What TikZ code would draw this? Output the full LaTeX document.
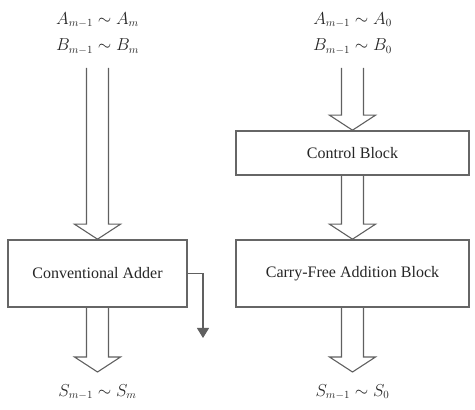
\documentclass[tikz,border=0pt]{standalone}
\usepackage{fontspec}
\setmainfont{Liberation Serif}
\usetikzlibrary{positioning,calc,arrows.meta}
\tikzset{
  block/.style={draw=gray!80!black, line width=1.6pt, fill=white,
    font=\fontsize{16}{19}\selectfont, text=black!85},
  bus/.style={draw=gray!75!black, line width=1.1pt, line join=miter},
  tag/.style={font=\fontsize{16}{19}\selectfont, text=black!85, inner sep=1pt},
}
% hollow two-line arrow from #1 to tip #2
\newcommand{\busarrow}[2]{%
\draw [bus] ($(#1)+(-11,0)$) -- ($(#2)+(-11,15)$) -- ($(#2)+(-23,15)$) --
  (#2) -- ($(#2)+(23,15)$) -- ($(#2)+(11,15)$) -- ($(#1)+(11,0)$);}
\begin{document}
\begin{tikzpicture}[x=1pt, y=1pt]
\useasboundingbox (0,0) rectangle (475,410);
% left: conventional part
\node [tag] (inAl) at (97.5,390) {$A_{m-1} \sim A_m$};
\node [tag, below=9pt of inAl] (inBl) {$B_{m-1} \sim B_m$};
\node [block, minimum width=179pt, minimum height=67pt] (adder)
  at (97.5,136.5) {Conventional Adder};
\coordinate (topL) at (97.5,342);
\coordinate (tipL) at (97.5,38);
\node [tag] (sumL) at (97.5,18) {$S_{m-1} \sim S_m$};
\busarrow{topL}{adder.north}
\busarrow{adder.south}{tipL}
\coordinate (carry) at (203,72);
\draw [bus, -{Triangle[width=12pt,length=10pt]}]
  (adder.east) -| (carry);
% right: carry-free part
\node [tag] (inAr) at (352.5,390) {$A_{m-1} \sim A_0$};
\node [tag, below=9pt of inAr] (inBr) {$B_{m-1} \sim B_0$};
\node [block, minimum width=233pt, minimum height=44pt] (ctrl)
  at (352.5,257) {Control Block};
\node [block, minimum width=233pt, minimum height=67pt] (cfa)
  at (352.5,136.5) {Carry-Free Addition Block};
\coordinate (topR) at (352.5,342);
\coordinate (tipR) at (352.5,38);
\node [tag] (sumR) at (352.5,18) {$S_{m-1} \sim S_0$};
\busarrow{topR}{ctrl.north}
\busarrow{ctrl.south}{cfa.north}
\busarrow{cfa.south}{tipR}
\end{tikzpicture}
\end{document}
